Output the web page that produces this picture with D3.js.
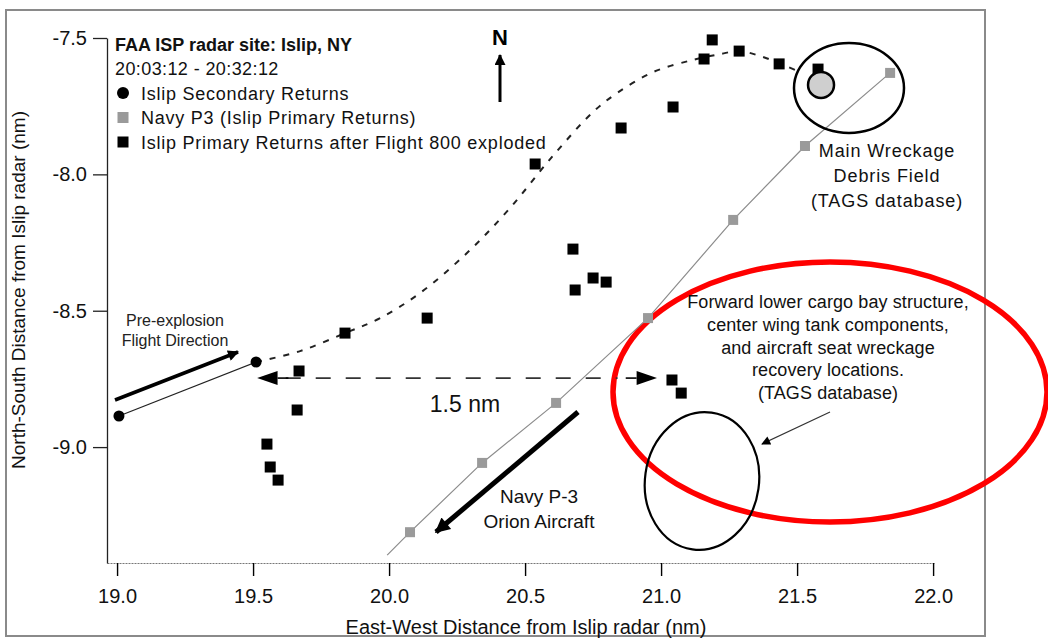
<!DOCTYPE html>
<html>
<head>
<meta charset="utf-8">
<script src="https://cdn.jsdelivr.net/npm/d3@7"></script>
<style>
  html, body { margin: 0; padding: 0; background: #fff; }
  svg { display: block; font-family: "Liberation Sans", Arial, sans-serif; }
</style>
</head>
<body>
<svg id="chart" width="1048" height="639"></svg>
<script>
// ---------------- data ----------------
const xTicks = [19.0, 19.5, 20.0, 20.5, 21.0, 21.5, 22.0];
const yTicks = [-7.5, -8.0, -8.5, -9.0];

// Islip secondary returns (black circles)
const secondaryX = [19.007, 19.511];
const secondaryY = [-8.886, -8.688];

// Navy P3 (Islip primary returns) – grey squares
const p3X = [20.077, 20.342, 20.614, 20.952, 21.265, 21.529, 21.842];
const p3Y = [-9.312, -9.058, -8.838, -8.527, -8.167, -7.896, -7.628];
// P3 track drawn through the returns, starting near the x axis
const p3TrackX = [19.993, 20.077, 20.342, 20.614, 20.952, 21.265, 21.529, 21.842];
const p3TrackY = [-9.396, -9.312, -9.058, -8.838, -8.527, -8.167, -7.896, -7.628];

// Islip primary returns after Flight 800 exploded – black squares
const primaryX = [21.188, 21.158, 21.287, 21.434, 21.577, 21.044, 20.853, 20.537,
                  20.676, 20.684, 20.750, 20.798, 20.140, 19.838, 19.669, 19.662,
                  19.551, 19.563, 19.592, 21.040, 21.074];
const primaryY = [-7.507, -7.577, -7.548, -7.595, -7.614, -7.753, -7.830, -7.962,
                  -8.274, -8.424, -8.380, -8.395, -8.527, -8.582, -8.721, -8.864,
                  -8.989, -9.073, -9.121, -8.754, -8.802];

// Dashed trend curve through the debris returns
const curveX = [19.511, 19.673, 19.838, 19.967, 20.114, 20.290, 20.445, 20.599, 20.750,
                20.838, 20.971, 21.114, 21.217, 21.287, 21.364, 21.434, 21.511];
const curveY = [-8.688, -8.648, -8.582, -8.527, -8.435, -8.285, -8.123, -7.936, -7.771,
                -7.702, -7.625, -7.581, -7.559, -7.548, -7.566, -7.592, -7.625];

// Main wreckage debris field marker (grey circle)
const wreckX = [21.588];
const wreckY = [-7.672];

// ---------------- chart ----------------
const svg = d3.select("#chart");
const x = d3.scaleLinear().domain([18.963, 22.007]).range([107, 935]);
const y = d3.scaleLinear().domain([-9.425, -7.5]).range([563, 38]);
const fmt = d => d.toFixed(1);

const defs = svg.append("defs");
function arrowMarker(id, w, h) {
  defs.append("marker")
    .attr("id", id)
    .attr("viewBox", "0 0 10 10")
    .attr("refX", 9).attr("refY", 5)
    .attr("markerUnits", "userSpaceOnUse")
    .attr("markerWidth", w).attr("markerHeight", h)
    .attr("orient", "auto")
    .append("path").attr("d", "M0,0 L10,5 L0,10 z").attr("fill", "#000");
}
arrowMarker("ahBig", 22, 15);
arrowMarker("ahMid", 18, 11);
arrowMarker("ahSmall", 14, 9);
arrowMarker("ahN", 14, 11);

// outer frame
svg.append("rect")
  .attr("x", 6).attr("y", 10).attr("width", 979).attr("height", 626)
  .attr("fill", "none").attr("stroke", "#8a8a8a").attr("stroke-width", 2);

// axes
const xAxis = d3.axisBottom(x).tickValues(xTicks).tickFormat(fmt)
  .tickSize(13).tickSizeOuter(0).tickPadding(13);
const gx = svg.append("g").attr("transform", `translate(0,${y.range()[0]})`).call(xAxis);
gx.select(".domain").attr("stroke", "#777").attr("stroke-dasharray", "2,1");
gx.selectAll(".tick line").attr("stroke", "#000").attr("stroke-width", 1.4);
gx.selectAll(".tick text").attr("font-size", 20).attr("fill", "#111")
  .attr("font-family", "Liberation Sans, Arial, sans-serif");

const yAxis = d3.axisLeft(y).tickValues(yTicks).tickFormat(fmt)
  .tickSize(14).tickSizeOuter(0).tickPadding(6);
const gy = svg.append("g").attr("transform", `translate(${x.range()[0]},0)`).call(yAxis);
gy.select(".domain").attr("stroke", "#222").attr("stroke-width", 1.3);
gy.selectAll(".tick line").attr("stroke", "#222").attr("stroke-width", 1.3);
gy.selectAll(".tick text").attr("font-size", 20).attr("fill", "#111")
  .attr("font-family", "Liberation Sans, Arial, sans-serif");

// axis titles
svg.append("text").attr("x", 526).attr("y", 634).attr("text-anchor", "middle")
  .attr("font-size", 20).attr("fill", "#111")
  .text("East-West Distance from Islip radar (nm)");
svg.append("text").attr("transform", "translate(25,290) rotate(-90)")
  .attr("text-anchor", "middle").attr("font-size", 19).attr("fill", "#111")
  .text("North-South Distance from Islip radar (nm)");

// legend
const lg = svg.append("g").attr("fill", "#111");
lg.append("text").attr("x", 115).attr("y", 51).attr("font-size", 18).attr("font-weight", "bold")
  .text("FAA ISP radar site: Islip, NY");
lg.append("text").attr("x", 115).attr("y", 75).attr("font-size", 18).attr("letter-spacing", 0.4)
  .text("20:03:12 - 20:32:12");
const legItems = [
  {label: "Islip Secondary Returns", type: "circle"},
  {label: "Navy P3 (Islip Primary Returns)", type: "grey"},
  {label: "Islip Primary Returns after Flight 800 exploded", type: "black"}
];
legItems.forEach((d, i) => {
  const cy = 93 + i * 24.5;
  if (d.type === "circle") lg.append("circle").attr("cx", 123).attr("cy", cy).attr("r", 6).attr("fill", "#000");
  else lg.append("rect").attr("x", 117.5).attr("y", cy - 5.5).attr("width", 11).attr("height", 11)
    .attr("fill", d.type === "grey" ? "#9a9a9a" : "#000");
  lg.append("text").attr("x", 141).attr("y", cy + 6.5).attr("font-size", 18)
    .attr("letter-spacing", 0.75).text(d.label);
});

// North arrow
svg.append("text").attr("x", 500).attr("y", 45).attr("text-anchor", "middle")
  .attr("font-size", 22).attr("font-weight", "bold").text("N");
svg.append("line").attr("x1", 500).attr("y1", 102).attr("x2", 500).attr("y2", 55)
  .attr("stroke", "#000").attr("stroke-width", 3).attr("marker-end", "url(#ahN)");

// red ellipse (behind marks)
svg.append("ellipse").attr("cx", 830).attr("cy", 392).attr("rx", 217).attr("ry", 130)
  .attr("fill", "none").attr("stroke", "#ff0000").attr("stroke-width", 5.5);

// Navy P3 track
const lineGen = d3.line().x(d => x(d[0])).y(d => y(d[1]));
svg.append("path")
  .datum(d3.zip(p3TrackX, p3TrackY))
  .attr("d", lineGen).attr("fill", "none").attr("stroke", "#8c8c8c").attr("stroke-width", 1.2);

// secondary returns flight path (thin solid)
svg.append("path")
  .datum(d3.zip(secondaryX, secondaryY))
  .attr("d", lineGen).attr("fill", "none").attr("stroke", "#222").attr("stroke-width", 1.3);

// dashed trend curve
svg.append("path")
  .datum(d3.zip(curveX, curveY))
  .attr("d", d3.line().x(d => x(d[0])).y(d => y(d[1])).curve(d3.curveCatmullRom))
  .attr("fill", "none").attr("stroke", "#222").attr("stroke-width", 2)
  .attr("stroke-dasharray", "6,8");

// 1.5 nm horizontal dashed arrow
const dY = -8.747;
svg.append("line").attr("x1", x(19.62)).attr("y1", y(dY)).attr("x2", x(20.84)).attr("y2", y(dY))
  .attr("stroke", "#333").attr("stroke-width", 1.6).attr("stroke-dasharray", "15,15");
svg.append("path")
  .attr("d", `M${x(19.515)},${y(dY)} L${x(19.59)},${y(dY) - 7} L${x(19.59)},${y(dY) + 7} Z`)
  .attr("fill", "#000");
svg.append("line").attr("x1", x(19.59)).attr("y1", y(dY)).attr("x2", x(19.63)).attr("y2", y(dY))
  .attr("stroke", "#000").attr("stroke-width", 1.6);
svg.append("path")
  .attr("d", `M${x(20.985)},${y(dY)} L${x(20.91)},${y(dY) - 7} L${x(20.91)},${y(dY) + 7} Z`)
  .attr("fill", "#000");
svg.append("line").attr("x1", x(20.87)).attr("y1", y(dY)).attr("x2", x(20.91)).attr("y2", y(dY))
  .attr("stroke", "#000").attr("stroke-width", 1.6);
svg.append("text").attr("x", 465).attr("y", 412).attr("text-anchor", "middle")
  .attr("font-size", 23).attr("fill", "#111").text("1.5 nm");

// pre-explosion arrow + text
svg.append("line").attr("x1", 115).attr("y1", 400).attr("x2", 238).attr("y2", 352)
  .attr("stroke", "#000").attr("stroke-width", 3.5).attr("marker-end", "url(#ahMid)");
svg.append("text").attr("x", 175).attr("y", 326).attr("text-anchor", "middle")
  .attr("font-size", 16).attr("fill", "#222").text("Pre-explosion");
svg.append("text").attr("x", 175).attr("y", 346).attr("text-anchor", "middle")
  .attr("font-size", 16).attr("fill", "#222").text("Flight Direction");

// Navy P-3 arrow + text
svg.append("line").attr("x1", 578).attr("y1", 412).attr("x2", 436).attr("y2", 532)
  .attr("stroke", "#000").attr("stroke-width", 5).attr("marker-end", "url(#ahBig)");
svg.append("text").attr("x", 539).attr("y", 503).attr("text-anchor", "middle")
  .attr("font-size", 19).attr("fill", "#111").text("Navy P-3");
svg.append("text").attr("x", 539).attr("y", 528).attr("text-anchor", "middle")
  .attr("font-size", 19).attr("fill", "#111").text("Orion Aircraft");

// main wreckage ellipse and label
svg.append("ellipse").attr("cx", 849).attr("cy", 88).attr("rx", 55).attr("ry", 45)
  .attr("fill", "none").attr("stroke", "#000").attr("stroke-width", 2.5);
const mw = ["Main Wreckage", "Debris Field", "(TAGS database)"];
mw.forEach((t, i) => svg.append("text").attr("x", 887).attr("y", 157 + i * 25)
  .attr("text-anchor", "middle").attr("font-size", 18).attr("letter-spacing", 0.9)
  .attr("fill", "#111").text(t));

// forward cargo text
const fc = ["Forward lower cargo bay structure,", "center wing tank components,",
            "and aircraft seat wreckage", "recovery locations.", "(TAGS database)"];
fc.forEach((t, i) => svg.append("text").attr("x", 828).attr("y", 308 + i * 22.8)
  .attr("text-anchor", "middle").attr("font-size", 18).attr("letter-spacing", 0.1)
  .attr("fill", "#111").text(t));

// lower black ellipse + pointer arrow
svg.append("ellipse").attr("cx", 702).attr("cy", 481).attr("rx", 57).attr("ry", 69)
  .attr("transform", "rotate(8,702,481)")
  .attr("fill", "none").attr("stroke", "#000").attr("stroke-width", 2.2);
svg.append("line").attr("x1", 830).attr("y1", 412).attr("x2", 762).attr("y2", 444)
  .attr("stroke", "#333").attr("stroke-width", 1.2).attr("marker-end", "url(#ahSmall)");

// ---------------- marks ----------------
// P3 grey squares
svg.append("g").selectAll("rect").data(d3.zip(p3X, p3Y)).join("rect")
  .attr("x", d => x(d[0]) - 5).attr("y", d => y(d[1]) - 5)
  .attr("width", 10).attr("height", 10).attr("fill", "#9a9a9a");

// primary black squares
svg.append("g").selectAll("rect").data(d3.zip(primaryX, primaryY)).join("rect")
  .attr("x", d => x(d[0]) - 5.5).attr("y", d => y(d[1]) - 5.5)
  .attr("width", 11).attr("height", 11).attr("fill", "#000");

// wreck grey circle
svg.append("g").selectAll("circle").data(d3.zip(wreckX, wreckY)).join("circle")
  .attr("cx", d => x(d[0])).attr("cy", d => y(d[1])).attr("r", 13)
  .attr("fill", "#cfcfcf").attr("stroke", "#000").attr("stroke-width", 2.5);

// secondary black circles
svg.append("g").selectAll("circle").data(d3.zip(secondaryX, secondaryY)).join("circle")
  .attr("cx", d => x(d[0])).attr("cy", d => y(d[1])).attr("r", 5.5).attr("fill", "#000");
</script>
</body>
</html>
